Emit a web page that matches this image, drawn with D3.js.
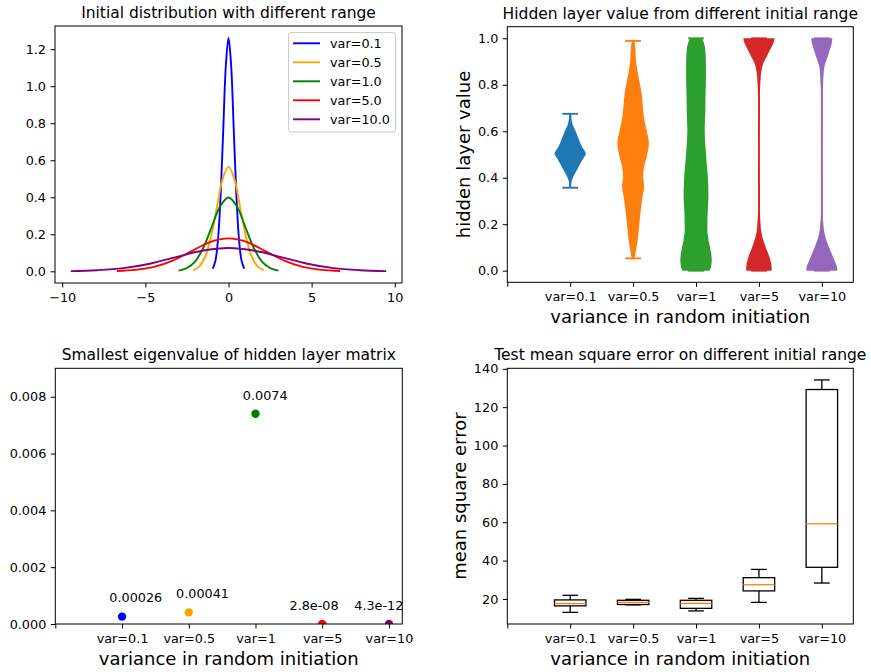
<!DOCTYPE html>
<html><head><meta charset="utf-8">
<script src="https://cdn.jsdelivr.net/npm/d3@7"></script>
<style>body{margin:0;background:#fff} svg{font-family:"DejaVu Sans",sans-serif;display:block}</style>
</head><body><svg id="c" width="871" height="672"></svg>
<script>
// ---------- DATA ----------
// Panel 1: initial distributions
const distLabels = ['var=0.1','var=0.5','var=1.0','var=5.0','var=10.0'];
const distColors = ['blue','orange','green','red','purple'];
const distX_01 = [-0.949,-0.791,-0.632,-0.474,-0.316,-0.158,0,0.158,0.316,0.474,0.632,0.791,0.949];
const distY_01 = [0.014,0.055,0.171,0.410,0.765,1.113,1.262,1.113,0.765,0.410,0.171,0.055,0.014];
const distX_05 = [-2.121,-1.768,-1.414,-1.061,-0.707,-0.354,0,0.354,0.707,1.061,1.414,1.768,2.121];
const distY_05 = [0.006,0.025,0.076,0.183,0.342,0.498,0.564,0.498,0.342,0.183,0.076,0.025,0.006];
const distX_1 = [-3,-2.5,-2,-1.5,-1,-0.5,0,0.5,1,1.5,2,2.5,3];
const distY_1 = [0.004,0.018,0.054,0.130,0.242,0.352,0.399,0.352,0.242,0.130,0.054,0.018,0.004];
const distX_5 = [-6.708,-5.590,-4.472,-3.354,-2.236,-1.118,0,1.118,2.236,3.354,4.472,5.590,6.708];
const distY_5 = [0.002,0.008,0.024,0.058,0.108,0.158,0.178,0.158,0.108,0.058,0.024,0.008,0.002];
const distX_10 = [-9.487,-7.906,-6.325,-4.743,-3.162,-1.581,0,1.581,3.162,4.743,6.325,7.906,9.487];
const distY_10 = [0.001,0.006,0.017,0.041,0.077,0.111,0.126,0.111,0.077,0.041,0.017,0.006,0.001];
const distXs = [distX_01, distX_05, distX_1, distX_5, distX_10];
const distYs = [distY_01, distY_05, distY_1, distY_5, distY_10];
const distXTicks = [-10,-5,0,5,10];
const distYTicks = [0,0.2,0.4,0.6,0.8,1.0,1.2];

// Shared categories for panels 2-4
const varCats = ['', 'var=0.1','var=0.5','var=1','var=5','var=10'];
const catPositions = [0,1,2,3,4,5];

// Panel 2: violins (relative half-width profile, 1 = widest)
const violinColors = ['#1f77b4','#ff7f0e','#2ca02c','#d62728','#9467bd'];
const violinMin = [0.357, 0.053, 0.0, 0.0, 0.0];
const violinMax = [0.675, 0.989, 1.0, 1.0, 1.0];
const violinY_01 = [0.357,0.38,0.40,0.42,0.44,0.46,0.48,0.495,0.503,0.515,0.53,0.55,0.57,0.60,0.63,0.675];
const violinW_01 = [0.03,0.07,0.17,0.32,0.48,0.64,0.80,0.94,1.0,0.92,0.78,0.64,0.52,0.35,0.15,0.05];
const violinY_05 = [0.053,0.055,0.090,0.147,0.205,0.262,0.319,0.362,0.405,0.448,0.491,0.549,0.606,0.663,0.721,0.764,0.821,0.893,0.978,0.989];
const violinW_05 = [0.03,0.08,0.19,0.32,0.40,0.49,0.60,0.70,0.64,0.70,0.87,1.0,0.85,0.68,0.60,0.54,0.38,0.20,0.11,0.03];
const violinY_1 = [0.0,0.018,0.047,0.076,0.119,0.176,0.248,0.319,0.391,0.463,0.534,0.606,0.678,0.749,0.821,0.893,0.950,0.993,1.0];
const violinW_1 = [0.85,0.96,1.0,0.96,0.83,0.72,0.74,0.79,0.76,0.68,0.60,0.55,0.59,0.60,0.63,0.63,0.59,0.43,0.38];
const violinY_5 = [0,0.012,0.033,0.061,0.090,0.119,0.147,0.176,0.205,0.248,0.5,0.749,0.821,0.864,0.893,0.921,0.950,0.978,1.0];
const violinW_5 = [0.81,0.81,0.77,0.66,0.49,0.34,0.21,0.13,0.10,0.06,0.03,0.06,0.10,0.17,0.28,0.49,0.70,0.91,1.0];
const violinY_10 = [0,0.012,0.033,0.061,0.090,0.119,0.147,0.176,0.205,0.248,0.5,0.749,0.821,0.864,0.893,0.921,0.950,0.978,1.0];
const violinW_10 = [0.98,0.98,0.87,0.70,0.52,0.35,0.22,0.13,0.09,0.05,0.03,0.05,0.09,0.13,0.22,0.37,0.50,0.63,0.67];
const violinYs = [violinY_01, violinY_05, violinY_1, violinY_5, violinY_10];
const violinWs = [violinW_01, violinW_05, violinW_1, violinW_5, violinW_10];
const violinYTicks = [0,0.2,0.4,0.6,0.8,1.0];

// Panel 3: smallest eigenvalue
const eigValues = [0.00026, 0.00041, 0.0074, 2.8e-08, 4.3e-12];
const eigLabels = ['0.00026','0.00041','0.0074','2.8e-08','4.3e-12'];
const eigColors = ['blue','orange','green','red','purple'];
const eigLabelDx = [-0.19,-0.19,-0.19,-0.49,-0.52];
const eigYTicks = [0,0.002,0.004,0.006,0.008];

// Panel 4: box plot (whisker low, q1, median, q3, whisker high)
const boxLow = [13.0, 16.9, 13.75, 18.2, 28.3];
const boxQ1 = [16.4, 17.1, 15.1, 24.2, 36.5];
const boxMed = [17.6, 18.2, 17.7, 27.4, 59.2];
const boxQ3 = [19.5, 19.3, 19.3, 31.1, 129.2];
const boxHigh = [21.9, 19.8, 20.3, 35.4, 134.2];
const boxYTicks = [20,40,60,80,100,120,140];

// ---------- LAYOUT ----------
const svg = d3.select('#c');
const FS = 12.8, TFS = 15.5, LFS = 18;
const P1={l:55,r:402,t:26,b:283};
const P2={l:507.3,r:853.3,t:26.7,b:282.3};
const P3={l:55.3,r:402.3,t:368.3,b:624};
const P4={l:507.3,r:853.3,t:368.3,b:624};

function pad(lo, hi){ const d=(hi-lo)*0.05; return [lo-d, hi+d]; }

function drawAxes(P, x, y, xTicks, xFmt, yTicks, yFmt){
  const gx = svg.append('g').attr('transform',`translate(0,${P.b})`)
    .call(d3.axisBottom(x).tickValues(xTicks).tickFormat(xFmt).tickSize(4.5).tickPadding(5.3));
  const gy = svg.append('g').attr('transform',`translate(${P.l},0)`)
    .call(d3.axisLeft(y).tickValues(yTicks).tickFormat(yFmt).tickSize(4.5).tickPadding(4.5));
  [gx,gy].forEach(g=>{
    g.attr('font-size',FS).attr('font-family','DejaVu Sans');
    g.select('.domain').remove();
    g.selectAll('text').attr('fill','#000');
    g.selectAll('line').attr('stroke','#000').attr('stroke-width',1);
  });
}
function frame(P){
  svg.append('rect').attr('x',P.l).attr('y',P.t).attr('width',P.r-P.l).attr('height',P.b-P.t)
    .attr('fill','none').attr('stroke','#000').attr('stroke-width',1);
}
function title(P, s){
  svg.append('text').attr('x',(P.l+P.r)/2).attr('y',P.t-8).attr('text-anchor','middle')
    .attr('font-size',TFS).attr('fill','#000').text(s);
}
function xlabel(P, s){
  svg.append('text').attr('x',(P.l+P.r)/2).attr('y',P.b+41).attr('text-anchor','middle')
    .attr('font-size',LFS).attr('fill','#000').text(s);
}
function ylabel(P, s, xPos){
  svg.append('text').attr('transform',`translate(${xPos},${(P.t+P.b)/2}) rotate(-90)`)
    .attr('text-anchor','middle').attr('font-size',LFS).attr('fill','#000').text(s);
}
function clip(id, P){
  svg.append('clipPath').attr('id',id).append('rect')
    .attr('x',P.l).attr('y',P.t).attr('width',P.r-P.l).attr('height',P.b-P.t);
}

// ---------- PANEL 1 ----------
{
  const allX = distXs.flat(), allY = distYs.flat();
  const x = d3.scaleLinear().domain(pad(d3.min(allX), d3.max(allX))).range([P1.l, P1.r]);
  const y = d3.scaleLinear().domain(pad(d3.min([0,...allY]), d3.max(allY))).range([P1.b, P1.t]);
  clip('c1', P1);
  const line = d3.line().x(d=>x(d[0])).y(d=>y(d[1])).curve(d3.curveCatmullRom);
  const g = svg.append('g').attr('clip-path','url(#c1)');
  distXs.forEach((xs,i)=>{
    g.append('path').attr('d', line(xs.map((v,j)=>[v, distYs[i][j]])))
      .attr('fill','none').attr('stroke',distColors[i]).attr('stroke-width',1.9);
  });
  drawAxes(P1, x, y, distXTicks, d3.format('d'), distYTicks, d3.format('.1f'));
  frame(P1);
  title(P1, 'Initial distribution with different range');
  // legend
  const lg = svg.append('g');
  const lx = 288.5, ly = 32.5, lw = 107, lh = 99.5;
  lg.append('rect').attr('x',lx).attr('y',ly).attr('width',lw).attr('height',lh).attr('rx',2.5)
    .attr('fill','#fff').attr('fill-opacity',0.8).attr('stroke','#cccccc').attr('stroke-width',1);
  distLabels.forEach((lab,i)=>{
    const yy = 43.3 + i*19;
    lg.append('line').attr('x1',lx+4.5).attr('x2',lx+31.5).attr('y1',yy).attr('y2',yy)
      .attr('stroke',distColors[i]).attr('stroke-width',1.9);
    lg.append('text').attr('x',lx+41.5).attr('y',yy).attr('dy','0.36em')
      .attr('font-size',FS).attr('fill','#000').text(lab);
  });
}

// ---------- PANEL 2 ----------
{
  const x = d3.scaleLinear().domain([0, 5.5]).range([P2.l, P2.r]);
  const y = d3.scaleLinear().domain(pad(0, 1)).range([P2.b, P2.t]);
  const half = 0.25; // max half-width in category units
  violinYs.forEach((ys,i)=>{
    const pos = i+1, col = violinColors[i];
    const pts = ys.map((v,j)=>[v, violinWs[i][j]]);
    const area = d3.area().y(d=>y(d[0])).x0(d=>x(pos - d[1]*half)).x1(d=>x(pos + d[1]*half))
      .curve(d3.curveMonotoneY);
    svg.append('path').attr('d', area(pts)).attr('fill', col);
    // bar & caps
    svg.append('line').attr('x1',x(pos)).attr('x2',x(pos)).attr('y1',y(violinMin[i])).attr('y2',y(violinMax[i]))
      .attr('stroke',col).attr('stroke-width',1.9);
    [violinMin[i], violinMax[i]].forEach(v=>{
      svg.append('line').attr('x1',x(pos-half/2)).attr('x2',x(pos+half/2)).attr('y1',y(v)).attr('y2',y(v))
        .attr('stroke',col).attr('stroke-width',1.9);
    });
  });
  drawAxes(P2, x, y, catPositions, (d,i)=>varCats[i], violinYTicks, d3.format('.1f'));
  frame(P2);
  title(P2, 'Hidden layer value from different initial range');
  xlabel(P2, 'variance in random initiation');
  ylabel(P2, 'hidden layer value', 470);
}

// ---------- PANEL 3 ----------
{
  const x = d3.scaleLinear().domain([0, 5.2]).range([P3.l, P3.r]);
  const y = d3.scaleLinear().domain([0, 0.009]).range([P3.b, P3.t]);
  clip('c3', P3);
  const g = svg.append('g').attr('clip-path','url(#c3)');
  eigValues.forEach((v,i)=>{
    g.append('circle').attr('cx',x(i+1)).attr('cy',y(v)).attr('r',4.2).attr('fill',eigColors[i]);
  });
  eigValues.forEach((v,i)=>{
    svg.append('text').attr('x',x(i+1+eigLabelDx[i])).attr('y',y(v+0.0005))
      .attr('font-size',FS).attr('fill','#000').text(eigLabels[i]);
  });
  drawAxes(P3, x, y, catPositions, (d,i)=>varCats[i], eigYTicks, d3.format('.3f'));
  frame(P3);
  title(P3, 'Smallest eigenvalue of hidden layer matrix');
  xlabel(P3, 'variance in random initiation');
}

// ---------- PANEL 4 ----------
{
  const x = d3.scaleLinear().domain([0, 5.5]).range([P4.l, P4.r]);
  const y = d3.scaleLinear().domain(pad(d3.min(boxLow), d3.max(boxHigh))).range([P4.b, P4.t]);
  const bw = 0.25, cw = 0.125, sw = 1.3;
  boxMed.forEach((m,i)=>{
    const pos = i+1;
    const g = svg.append('g').attr('stroke','#000').attr('stroke-width',sw).attr('fill','none');
    g.append('line').attr('x1',x(pos)).attr('x2',x(pos)).attr('y1',y(boxLow[i])).attr('y2',y(boxQ1[i]));
    g.append('line').attr('x1',x(pos)).attr('x2',x(pos)).attr('y1',y(boxQ3[i])).attr('y2',y(boxHigh[i]));
    g.append('line').attr('x1',x(pos-cw)).attr('x2',x(pos+cw)).attr('y1',y(boxLow[i])).attr('y2',y(boxLow[i]));
    g.append('line').attr('x1',x(pos-cw)).attr('x2',x(pos+cw)).attr('y1',y(boxHigh[i])).attr('y2',y(boxHigh[i]));
    g.append('rect').attr('x',x(pos-bw)).attr('y',y(boxQ3[i])).attr('width',x(pos+bw)-x(pos-bw))
      .attr('height',y(boxQ1[i])-y(boxQ3[i]));
    g.append('line').attr('x1',x(pos-bw)).attr('x2',x(pos+bw)).attr('y1',y(m)).attr('y2',y(m))
      .attr('stroke','#ff7f0e');
  });
  drawAxes(P4, x, y, catPositions, (d,i)=>varCats[i], boxYTicks, d3.format('d'));
  frame(P4);
  title(P4, 'Test mean square error on different initial range');
  xlabel(P4, 'variance in random initiation');
  ylabel(P4, 'mean square error', 465.5);
}
</script></body></html>
